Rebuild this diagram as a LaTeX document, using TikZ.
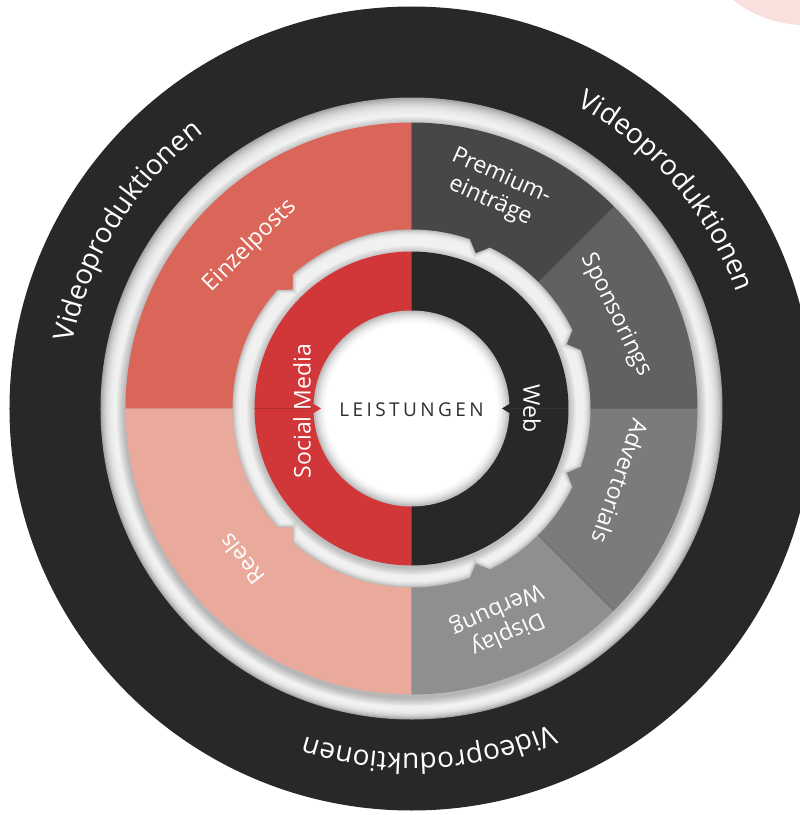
\documentclass[tikz,border=0pt]{standalone}
\usepackage{fontspec}
\setmainfont{Open Sans}
\usetikzlibrary{decorations.text}
\definecolor{darkbg}{HTML}{292827}
\definecolor{einzel}{HTML}{DA6659}
\definecolor{reelsc}{HTML}{E9A99B}
\definecolor{smred}{HTML}{D13639}
\definecolor{webdark}{HTML}{292827}
\definecolor{premc}{HTML}{484746}
\definecolor{sponsc}{HTML}{616161}
\definecolor{advc}{HTML}{7B7B7B}
\definecolor{dispc}{HTML}{8F8F8F}
\definecolor{pinkc}{HTML}{F8E1DC}
\definecolor{rimedge}{HTML}{A5A5A5}
\definecolor{rimwhite}{HTML}{F1F1F1}
\definecolor{leistc}{HTML}{2E2E2E}
\tikzset{
  gear/.style={insert path={
    (228.5:{#1}) arc[start angle=228.5,end angle=289,radius={#1}] -- (292.5:{#1-11}) --
    (296:{#1}) arc[start angle=296,end angle=334,radius={#1}] -- (337.5:{#1-11}) --
    (341:{#1}) arc[start angle=341,end angle=379,radius={#1}] -- (382.5:{#1-11}) --
    (386:{#1}) arc[start angle=386,end angle=424,radius={#1}] -- (427.5:{#1-11}) --
    (431:{#1}) arc[start angle=431,end angle=491.5,radius={#1}] -- (495:{#1-11}) --
    (498.5:{#1}) arc[start angle=498.5,end angle=581.5,radius={#1}] -- (585:{#1-11}) -- cycle}},
  lbl/.style={text=white, inner sep=0pt, font=\fontsize{23}{27}\selectfont},
  sepline/.style={black, opacity=0.18, line width=0.8pt},
  arctext/.style={decorate, decoration={text along path, text align=center,
    text={|\fontsize{28}{30}\selectfont\color{white}|#1}}}
}
\begin{document}
\begin{tikzpicture}[x=1pt,y=1pt]
\useasboundingbox (-411.5,-406.5) rectangle (388.5,408.5);
\clip (-411.5,-406.5) rectangle (388.5,408.5);
% pink circle top right
\fill[pinkc] (393.5,499.5) circle (116);
% dark outer disk
\fill[darkbg] (0,0) circle (402);
% outer white rim
\fill[rimedge] (0,0) circle (311);
\foreach \k/\c in {1/80,2/62,3/47,4/35,5/25,6/17,7/11,8/6,9/3,10/0}
  \fill[rimedge!\c!rimwhite] (0,{-0.35*\k}) circle ({311-\k*1.3});
% shadow of the sector disk
\foreach \k in {1,...,8}
  \fill[black,opacity=0.03] (0,-3) circle ({286+\k*1.1});
% outer sectors
\fill[einzel] (0,0) -- (90:286) arc[start angle=90,end angle=180,radius=286] -- cycle;
\fill[reelsc] (0,0) -- (180:286) arc[start angle=180,end angle=270,radius=286] -- cycle;
\fill[premc] (0,0) -- (45:286) arc[start angle=45,end angle=90,radius=286] -- cycle;
\fill[sponsc] (0,0) -- (0:286) arc[start angle=0,end angle=45,radius=286] -- cycle;
\fill[advc] (0,0) -- (-45:286) arc[start angle=-45,end angle=0,radius=286] -- cycle;
\fill[dispc] (0,0) -- (-90:286) arc[start angle=-90,end angle=-45,radius=286] -- cycle;
\coordinate (c0) at (0,0);
\foreach \a in {45,0,-45}
  \draw[sepline] (\a:170) -- (\a:286);
% gear rim
\foreach \i/\c in {0/70,1/52,2/37,3/25,4/15,5/8,6/3,7/0}
  \fill[rimedge!\c!rimwhite, gear={179-\i}];
% shadow of the inner ring
\foreach \k in {1,...,7}
  \fill[black,opacity=0.03] (0,-2) circle ({157+\k*1.1});
% inner ring halves
\fill[smred] (90:157) arc[start angle=90,end angle=270,radius=157] -- cycle;
\fill[webdark] (-90:157) arc[start angle=-90,end angle=90,radius=157] -- cycle;
\draw[black,opacity=0.15,line width=0.6pt] (180:157) -- (180:98);
\draw[white,opacity=0.06,line width=0.6pt] (0:157) -- (0:98);
% centre disk
\foreach \i/\c in {0/72,2/52,4/36,6/22,8/12,10/5,12/0}
  \fill[rimedge!\c!white] (0,0) circle ({98-\i});
% pointers
\fill[smred] (-99.5,5.5) -- (-90.5,0) -- (-99.5,-5.5) -- cycle;
\fill[webdark] (99.5,5.5) -- (90.5,0) -- (99.5,-5.5) -- cycle;
% curved texts
\path[arctext=Videoproduktionen] (193:345) arc[start angle=193,end angle=103,radius=345];
\path[arctext=Videoproduktionen] (85.5:345) arc[start angle=85.5,end angle=-4.5,radius=345];
\path[arctext=Videoproduktionen] (-42:345) arc[start angle=-42,end angle=-132,radius=345];
% sector labels
\node[lbl, rotate=45] (einzelposts) at (134.8:229) {Einzelposts};
\node[lbl, rotate=128] (reels) at (221.6:227) {Reels};
\node[lbl, rotate=-24, align=center] (premium) at (69:235) {Premium-\\einträge};
\node[lbl, rotate=-64] (sponsorings) at (24.6:225) {Sponsorings};
\node[lbl, rotate=-109] (advertorials) at (-19.2:221) {Advertorials};
\node[lbl, rotate=-156, align=center] (display) at (-66.9:231) {Display\\Werbung};
\node[lbl, rotate=90] (social) at (-109.5,-2.5) {Social Media};
\node[lbl, rotate=-90] (web) at (120.5,0) {Web};
\node[inner sep=0pt, text=leistc, font=\fontsize{19}{22}\selectfont\addfontfeature{LetterSpace=18}] (leistungen) at (0,-1.5) {LEISTUNGEN};
\end{tikzpicture}
\end{document}
